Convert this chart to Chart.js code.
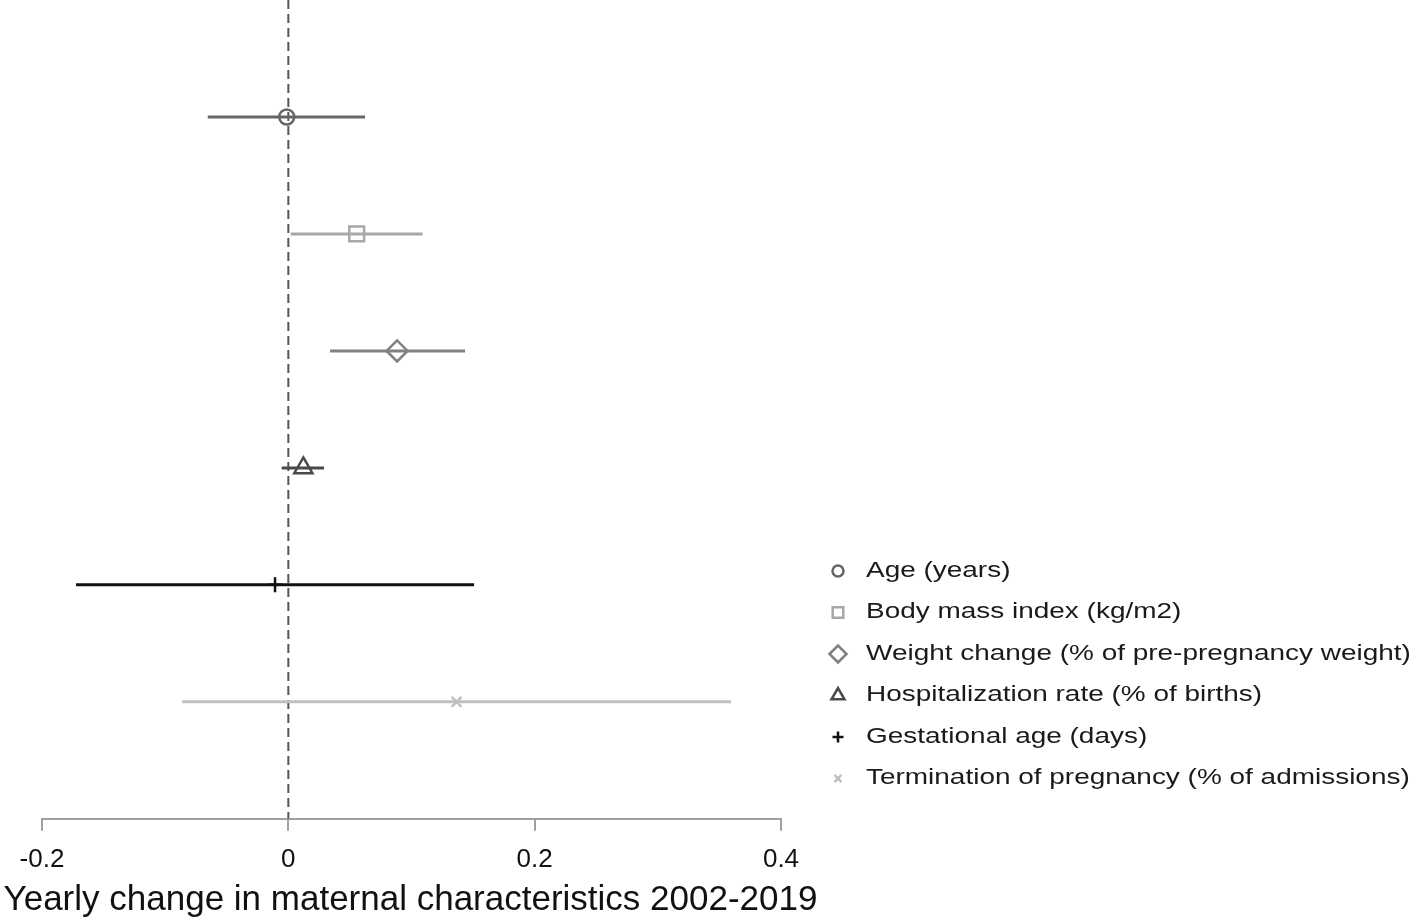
<!DOCTYPE html>
<html><head><meta charset="utf-8">
<script src="https://cdn.jsdelivr.net/npm/chart.js@4.4.1/dist/chart.umd.min.js"></script>
<style>html,body{margin:0;padding:0;background:#fff}#wrap{width:1416px;height:921px;position:relative}</style>
</head><body><div id="wrap"><canvas id="c"></canvas></div>
<script>
// ---- data ----
const categories = ["Age (years)", "Body mass index (kg/m2)", "Weight change (% of pre-pregnancy weight)", "Hospitalization rate (% of births)", "Gestational age (days)", "Termination of pregnancy (% of admissions)"];
const estimates = [-0.0013, 0.0555, 0.0883, 0.0122, -0.0108, 0.1366];
const lowerCI  = [-0.0654, 0.0019, 0.0339, -0.0054, -0.1724, -0.0863];
const upperCI  = [0.0623, 0.1090, 0.1435, 0.0290, 0.1508, 0.3594];
const rowIndex = [1, 2, 3, 4, 5, 6];
const xTicks = [-0.2, 0, 0.2, 0.4];
const xTitle = "Yearly change in maternal characteristics 2002-2019";

// ---- styles ----
const seriesColors = ['#666666', '#a8a8a8', '#808080', '#4a4a4a', '#111111', '#c0c0c0'];
const markerStyles = ['circle', 'rect', 'rectRot', 'triangle', 'cross', 'crossRot'];
const markerRadius = [7.5, 10.5, 10.5, 10.5, 7.5, 7];
const legendRadius = [5.5, 7.5, 8.5, 7.5, 5.5, 5];

const datasets = categories.map((name, i) => ({
  label: name,
  type: 'line',
  data: [{x: lowerCI[i], y: rowIndex[i]}, {x: estimates[i], y: rowIndex[i]}, {x: upperCI[i], y: rowIndex[i]}],
  borderColor: seriesColors[i],
  borderWidth: 3,
  pointRadius: [0, markerRadius[i], 0],
  pointHoverRadius: [0, markerRadius[i], 0],
  pointStyle: markerStyles[i],
  pointBorderColor: seriesColors[i],
  pointBackgroundColor: 'rgba(255,255,255,0)',
  pointBorderWidth: 2.5,
  fill: false,
  order: 1
}));
datasets.push({
  label: 'zero',
  type: 'line',
  data: [{x: 0, y: 0}, {x: 0, y: 7}],
  borderColor: '#555555',
  borderWidth: 2,
  borderDash: [9, 5],
  pointRadius: 0,
  fill: false,
  order: 10
});

function drawMarker(ctx, style, r, x, y, color) {
  ctx.save();
  ctx.strokeStyle = color; ctx.fillStyle = 'rgba(255,255,255,0)';
  ctx.lineWidth = 2.5;
  if (Chart.helpers && Chart.helpers.drawPoint) {
    Chart.helpers.drawPoint(ctx, {pointStyle: style, radius: r, rotation: 0, borderWidth: 2.5}, x, y);
  }
  ctx.restore();
}

const legendPlugin = {
  id: 'customLegend',
  afterDraw(chart) {
    const ctx = chart.ctx;
    const rowsY = [571, 612.5, 654, 695.5, 737, 778.5];
    categories.forEach((name, i) => {
      drawMarker(ctx, markerStyles[i], legendRadius[i], 838, rowsY[i], seriesColors[i]);
      ctx.save();
      ctx.translate(866, rowsY[i]);
      ctx.scale(1.3, 1);
      ctx.font = '21.5px "Liberation Sans", Arial, sans-serif';
      ctx.fillStyle = '#1a1a1a';
      ctx.textBaseline = 'middle';
      ctx.textAlign = 'left';
      ctx.fillText(name, 0, 0);
      ctx.restore();
    });
    // axis title (wider than the plot area, so drawn here)
    const xs = chart.scales.x;
    ctx.save();
    ctx.font = '35px "Liberation Sans", Arial, sans-serif';
    ctx.fillStyle = '#111';
    ctx.textAlign = 'center';
    ctx.textBaseline = 'alphabetic';
    ctx.fillText(xTitle, (xs.left + xs.right) / 2 - 1, 910);
    ctx.restore();
  }
};

new Chart(document.getElementById('c'), {
  type: 'line',
  data: { datasets },
  options: {
    responsive: true,
    maintainAspectRatio: false,
    animation: false,
    layout: { padding: { left: 42, right: 635, top: 0, bottom: 33 } },
    plugins: { legend: { display: false }, tooltip: { enabled: false } },
    scales: {
      x: {
        type: 'linear', min: -0.2, max: 0.4,
        afterBuildTicks: (s) => { s.ticks = xTicks.map(v => ({value: v})); },
        grid: { drawOnChartArea: false, drawTicks: true, tickLength: 12, color: '#a0a0a0', lineWidth: 2 },
        border: { display: true, color: '#a0a0a0', width: 2 },
        ticks: {
          color: '#111', padding: 13,
          font: { family: '"Liberation Sans", Arial, sans-serif', size: 26 },
          callback: (v) => String(Number(Number(v).toFixed(1))),
          maxRotation: 0, autoSkip: false
        },
        title: { display: false }
      },
      y: { type: 'linear', min: 0, max: 7, reverse: true, display: false }
    }
  },
  plugins: [legendPlugin]
});
</script>
</body></html>
